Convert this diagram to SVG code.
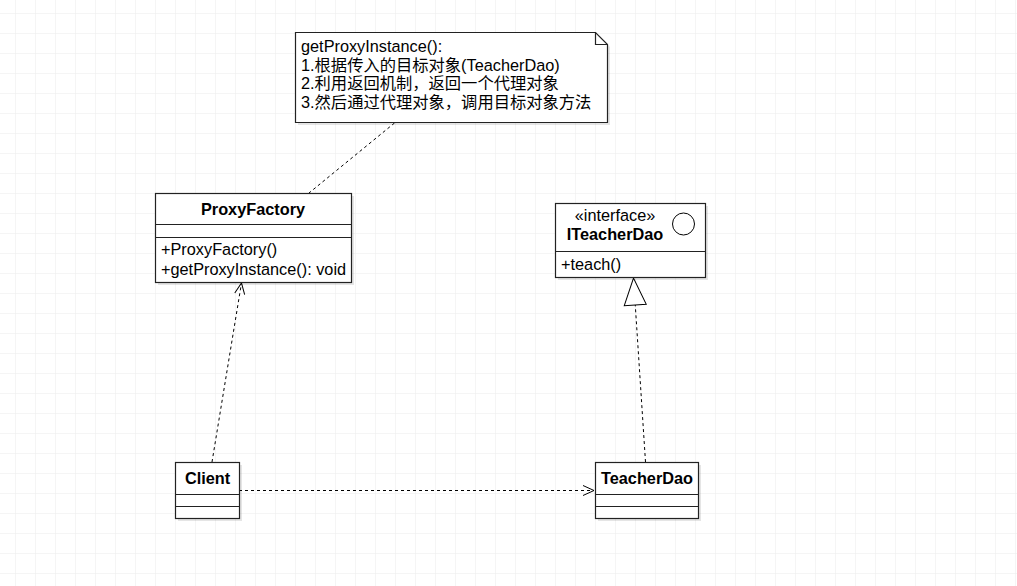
<svg xmlns="http://www.w3.org/2000/svg" width="1017" height="586" viewBox="0 0 1017 586">
<defs>
<pattern id="grid" x="15" y="13" width="20" height="20" patternUnits="userSpaceOnUse">
<path d="M0 0V20M0 0H20" fill="none" stroke="#ececec" stroke-width="1"/>
</pattern>
<marker id="open" markerWidth="14" markerHeight="12" refX="12" refY="6" orient="auto" markerUnits="userSpaceOnUse">
<path d="M1 1L12 6L1 11" fill="none" stroke="#000" stroke-width="1"/>
</marker>
<marker id="tri" markerWidth="30" markerHeight="26" refX="28" refY="13" orient="auto" markerUnits="userSpaceOnUse">
<path d="M1 2L28 13L1 24Z" fill="#fff" stroke="#000" stroke-width="1"/>
</marker>
</defs>
<style>
text{font-family:"Liberation Sans",Arial,"Noto Sans CJK SC",sans-serif;font-size:16.3px;fill:#000}
.b{font-weight:bold}
.box{fill:#fff;stroke:#222;stroke-width:1.2}
.sh{fill:#000;opacity:0.1}
.c{fill:none;stroke:#000;stroke-width:1;stroke-dasharray:3 3}
</style>
<rect width="1017" height="586" fill="#fff"/>
<rect width="1017" height="586" fill="url(#grid)"/>
<g id="connectors">
<path class="c" d="M394.5 123L309 193"/>
<path class="c" d="M212 462L241.5 283" marker-end="url(#open)"/>
<path class="c" d="M645.5 462L633.5 278" marker-end="url(#tri)"/>
<path class="c" d="M239 490.5H594" marker-end="url(#open)"/>
</g>
<g id="note">
<path class="sh" d="M298 35H598L610 47V125H298Z"/>
<path class="box" d="M295.5 32.5H595.5L607.5 44.5V122.5H295.5Z"/>
<path d="M595.5 32.5V44.5H607.5" fill="none" stroke="#222" stroke-width="1.2"/>
<text x="301" y="52">getProxyInstance():</text>
<text x="301" y="71">1.根据传入的目标对象(TeacherDao)</text>
<text x="301" y="89">2.利用返回机制，返回一个代理对象</text>
<text x="301" y="108">3.然后通过代理对象，调用目标对象方法</text>
</g>
<g id="proxyfactory">
<rect class="sh" x="158" y="196" width="196" height="89"/>
<rect class="box" x="155.5" y="193.5" width="196" height="89"/>
<path d="M155.5 224.5H351.5M155.5 237.5H351.5" stroke="#222" stroke-width="1.2"/>
<text class="b" x="253" y="215" text-anchor="middle">ProxyFactory</text>
<text x="161" y="255">+ProxyFactory()</text>
<text x="161" y="275">+getProxyInstance(): void</text>
</g>
<g id="iteacherdao">
<rect class="sh" x="558" y="206" width="150" height="74"/>
<rect class="box" x="555.5" y="203.5" width="150" height="74"/>
<path d="M555.5 251.5H705.5" stroke="#222" stroke-width="1.2"/>
<circle cx="683.5" cy="224" r="11" fill="#fff" stroke="#000"/>
<text x="615" y="221" text-anchor="middle">«interface»</text>
<text class="b" x="615" y="240" text-anchor="middle">ITeacherDao</text>
<text x="561" y="270">+teach()</text>
</g>
<g id="client">
<rect class="sh" x="178" y="465" width="64" height="56"/>
<rect class="box" x="175.5" y="462.5" width="64" height="56"/>
<path d="M175.5 494.5H239.5M175.5 506.5H239.5" stroke="#222" stroke-width="1.2"/>
<text class="b" x="207.5" y="484" text-anchor="middle">Client</text>
</g>
<g id="teacherdao">
<rect class="sh" x="598" y="465" width="103" height="56"/>
<rect class="box" x="595.5" y="462.5" width="103" height="56"/>
<path d="M595.5 494.5H698.5M595.5 506.5H698.5" stroke="#222" stroke-width="1.2"/>
<text class="b" x="647" y="484" text-anchor="middle">TeacherDao</text>
</g>
</svg>
